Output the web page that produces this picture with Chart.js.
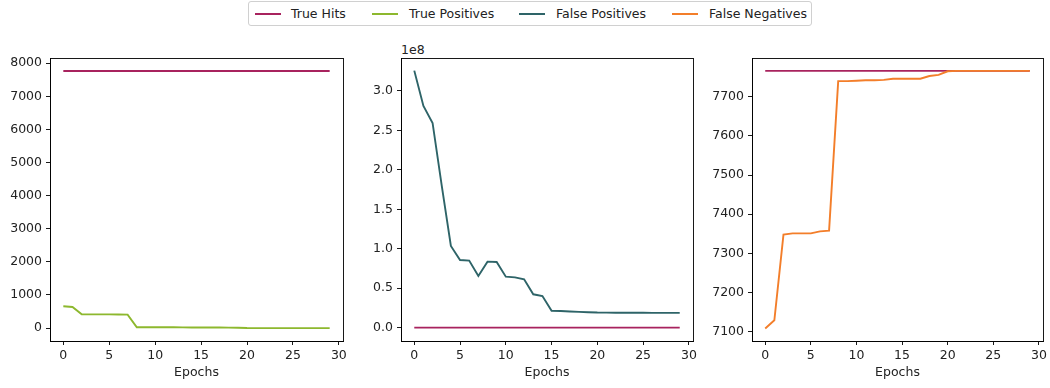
<!DOCTYPE html>
<html>
<head>
<meta charset="utf-8">
<script src="https://cdn.jsdelivr.net/npm/chart.js@4.4.1/dist/chart.umd.min.js"></script>
<style>
  html, body { margin:0; padding:0; background:#fff; }
  body { width:1050px; height:388px; position:relative; overflow:hidden; font-family:"DejaVu Sans", sans-serif; }
  canvas { position:absolute; }
  #legend { position:absolute; left:248px; top:1px; width:564px; height:25px; border:1px solid #d0d0d0; border-radius:3px; box-sizing:border-box; }
  .sw { position:absolute; top:11px; width:26px; height:2px; }
  .lb { position:absolute; top:4px; font-size:12.5px; color:#222; white-space:nowrap; line-height:15px; }
  #off { position:absolute; left:401px; top:42px; font-size:12.5px; color:#222; line-height:15px; }
</style>
</head>
<body>
<div id="legend"></div>
<div id="off">1e8</div>
<canvas id="c1" width="360" height="348" style="left:0px;top:40px"></canvas>
<canvas id="c2" width="355" height="348" style="left:355px;top:40px"></canvas>
<canvas id="c3" width="345" height="348" style="left:705px;top:40px"></canvas>
<script>
const epochs = [0,1,2,3,4,5,6,7,8,9,10,11,12,13,14,15,16,17,18,19,20,21,22,23,24,25,26,27,28,29];
const trueHits = [7766,7766,7766,7766,7766,7766,7766,7766,7766,7766,7766,7766,7766,7766,7766,7766,7766,7766,7766,7766,7766,7766,7766,7766,7766,7766,7766,7766,7766,7766];
const truePositives = [658,637,418,415,415,415,410,408,26,26,25,24,24,23,20,20,20,20,13,10,1,0,0,0,0,0,0,0,0,0];
const falsePositives = [325800000,281000000,259500000,180000000,103500000,85800000,85000000,65500000,83700000,83200000,64600000,63800000,61300000,42300000,40100000,21500000,21100000,20500000,20000000,19600000,19200000,19100000,19000000,19000000,19000000,19000000,18800000,18700000,18700000,18700000];
const falseNegatives = [7108,7129,7348,7351,7351,7351,7356,7358,7740,7740,7741,7742,7742,7743,7746,7746,7746,7746,7753,7756,7765,7766,7766,7766,7766,7766,7766,7766,7766,7766];
const xTicks = [0,5,10,15,20,25,30];
const yTicks1 = [0,1000,2000,3000,4000,5000,6000,7000,8000];
const yTicks2 = [0,50000000,100000000,150000000,200000000,250000000,300000000];
const yTicks3 = [7100,7200,7300,7400,7500,7600,7700];
const seriesNames = ["True Hits","True Positives","False Positives","False Negatives"];
const colors = ["#A8235E","#8DB82E","#2E6468","#F37E2A"];

// legend
const legendPos = [[6,42],[123,160],[270,307],[423,460]];
const lg = document.getElementById('legend');
seriesNames.forEach((n,i)=>{
  const sw = document.createElement('div'); sw.className='sw'; sw.style.left=legendPos[i][0]+'px'; sw.style.background=colors[i]; lg.appendChild(sw);
  const lb = document.createElement('div'); lb.className='lb'; lb.style.left=legendPos[i][1]+'px'; lb.textContent=n; lg.appendChild(lb);
});

const FONT = {family:"'DejaVu Sans'", size:12.5};
const pts = arr => arr.map((v,i)=>({x:epochs[i], y:v}));
const frame = {
  id:'frame',
  afterDraw(chart){
    const a = chart.chartArea, c = chart.ctx;
    c.save(); c.strokeStyle='#000'; c.lineWidth=0.9;
    c.strokeRect(Math.round(a.left)+0.5, Math.round(a.top)+0.5, Math.round(a.right-a.left), Math.round(a.bottom-a.top));
    c.restore();
  }
};

function make(id, datasets, ymin, ymax, yticks, yfmt, yw, padRight){
  new Chart(document.getElementById(id), {
    type:'line',
    data:{datasets: datasets.map(d=>({label:d.label, data:pts(d.data), borderColor:d.color, backgroundColor:d.color, borderWidth:1.9, pointRadius:0, tension:0, fill:false}))},
    options:{
      responsive:false, animation:false,
      layout:{padding:{left:0, top:18, right:padRight, bottom:0}},
      plugins:{legend:{display:false}, tooltip:{enabled:false}},
      scales:{
        x:{type:'linear', min:-1.45, max:30.45,
           afterBuildTicks:s=>{ s.ticks = xTicks.map(v=>({value:v})); },
           afterFit:s=>{ s.height = 47; },
           grid:{drawOnChartArea:false, drawTicks:true, tickLength:4, color:'#000', lineWidth:0.9},
           border:{display:true, color:'#000', width:0.9},
           ticks:{font:FONT, color:'#222', padding:3, maxRotation:0, callback:v=>String(v)},
           title:{display:true, text:'Epochs', font:FONT, color:'#222', padding:{top:1, bottom:8}}
        },
        y:{type:'linear', min:ymin, max:ymax,
           afterBuildTicks:s=>{ s.ticks = yticks.map(v=>({value:v})); },
           afterFit:s=>{ s.width = yw; },
           grid:{drawOnChartArea:false, drawTicks:true, tickLength:4, color:'#000', lineWidth:0.9},
           border:{display:true, color:'#000', width:0.9},
           ticks:{font:FONT, color:'#222', padding:4, callback:yfmt}
        }
      }
    },
    plugins:[frame]
  });
}

make('c1', [{label:seriesNames[0], data:trueHits, color:colors[0]},{label:seriesNames[1], data:truePositives, color:colors[1]}],
  -390, 8158, yTicks1, v=>String(v), 50, 17);
make('c2', [{label:seriesNames[2], data:falsePositives, color:colors[2]},{label:seriesNames[0], data:trueHits, color:colors[0]}],
  -16900000, 341800000, yTicks2, v=>(v/1e8).toFixed(1), 46, 17);
make('c3', [{label:seriesNames[3], data:falseNegatives, color:colors[3]},{label:seriesNames[0], data:trueHits, color:colors[0]}],
  7076, 7799, yTicks3, v=>String(v), 47, 7);
</script>
</body>
</html>
